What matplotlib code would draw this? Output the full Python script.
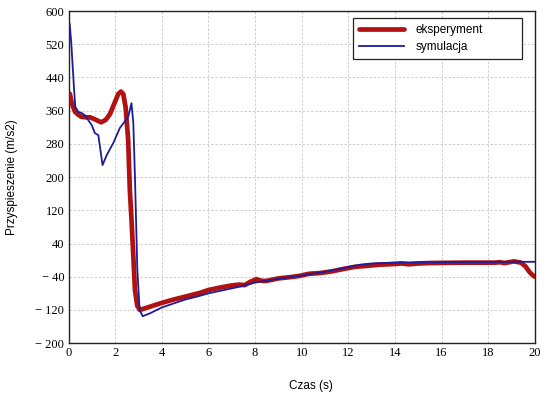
import matplotlib
matplotlib.use("Agg")
import matplotlib.pyplot as plt

# experiment (red, thick)
t_exp = [0.02, 0.06, 0.14, 0.28, 0.45, 0.56, 0.75, 0.92, 1.1, 1.25, 1.4, 1.6, 1.78, 2.0, 2.13, 2.25, 2.35, 2.45,
         2.56, 2.63, 2.7, 2.78, 2.85, 2.95, 3.06, 3.5, 4.0, 4.5, 5.0, 5.63, 6.0, 6.5, 7.0, 7.3, 7.56,
         7.8, 8.06, 8.3, 8.49, 9.0, 9.5, 9.91, 10.3, 10.8, 11.3, 11.9, 12.3, 12.77, 13.3, 13.9, 14.3,
         14.6, 15.0, 15.5, 16.2, 17.0, 17.5, 18.0, 18.3, 18.5, 18.7, 19.1, 19.4, 19.6, 19.76, 19.9, 20.0]
a_exp = [402, 400, 378, 357, 349, 345, 344, 344, 340, 336, 332, 338, 352, 382, 400, 406, 400, 368,
         289, 169, 100, 10, -72, -110, -120, -112, -103, -95, -88, -79, -72, -66, -61, -59, -60,
         -52, -46, -50, -50, -44, -41, -38, -33, -31, -27, -20, -16, -14, -11, -9.6, -8,
         -10, -8, -7, -6.5, -6, -6, -6, -6, -5, -7, -3, -6, -15, -28, -36, -40]

# simulation (blue, thin)
t_sim = [0, 0.01, 0.05, 0.12, 0.18, 0.24, 0.29, 0.42, 0.55, 0.7, 1.0, 1.13, 1.28, 1.46, 1.64, 1.92, 2.2, 2.56, 2.7, 2.78,
         2.85, 2.95, 3.05, 3.18, 3.5, 4.0, 5.0, 5.63, 6.0, 7.0, 7.5, 8.0, 9.0, 10.0, 11.0, 12.0,
         12.5, 13.0, 14.0, 16.0, 18.0, 19.0, 20.0]
a_sim = [0, 540, 570, 522, 466, 410, 370, 357, 355, 349, 325, 306, 301, 229, 253, 282, 318, 345, 378, 330,
         200, -20, -120, -135, -128, -114, -95, -86, -80, -68, -62, -54, -45, -37, -28, -17,
         -11, -8, -6, -5, -4.5, -4, -4]

x_ticks = [0, 2, 4, 6, 8, 10, 12, 14, 16, 18, 20]
y_ticks = [-200, -120, -40, 40, 120, 200, 280, 360, 440, 520, 600]
y_tick_labels = ["\u2212 200", "\u2212 120", "\u2212 40", "40", "120", "200", "280", "360", "440", "520", "600"]

fig = plt.figure(figsize=(5.48, 3.94), dpi=100)
ax = fig.add_axes([0.125, 0.129, 0.851, 0.843])

ax.plot(t_exp, a_exp, color="#b01212", lw=3.4, solid_capstyle="round", label="eksperyment", zorder=3)
ax.plot(t_sim, a_sim, color="#1c1c9c", lw=1.3, label="symulacja", zorder=4)

ax.set_xlim(0, 20)
ax.set_ylim(-200, 600)
ax.set_xticks(x_ticks)
ax.set_yticks(y_ticks)
ax.set_yticklabels(y_tick_labels)
ax.tick_params(length=0, pad=3)
for lab in ax.get_xticklabels() + ax.get_yticklabels():
    lab.set_fontfamily("Liberation Serif")
    lab.set_fontsize(9)
ax.grid(True, color="#c8c8d0", lw=0.6, ls=(0, (3, 2)))
for s in ax.spines.values():
    s.set_linewidth(1.0)
    s.set_color("#222222")

ax.set_xlabel("Czas (s)", fontfamily="Liberation Sans", fontsize=8.5)
ax.xaxis.set_label_coords(0.52, -0.11)
ax.set_ylabel("Przyspieszenie (m/s2)", fontfamily="Liberation Sans", fontsize=8.5)
ax.yaxis.set_label_coords(-0.108, 0.5)

leg = ax.legend(loc="upper left", bbox_to_anchor=(0.6105, 0.8605, 0.363, 0.1175), mode="expand",
                frameon=True, fancybox=False,
                prop={"family": "Liberation Sans", "size": 8.5}, handlelength=3.8,
                borderpad=0.5, labelspacing=0.4, handletextpad=1.0, borderaxespad=0)
leg.get_frame().set_edgecolor("#222222")
leg.get_frame().set_linewidth(0.9)
leg.get_frame().set_alpha(1)

fig.savefig("out.png", dpi=100)
